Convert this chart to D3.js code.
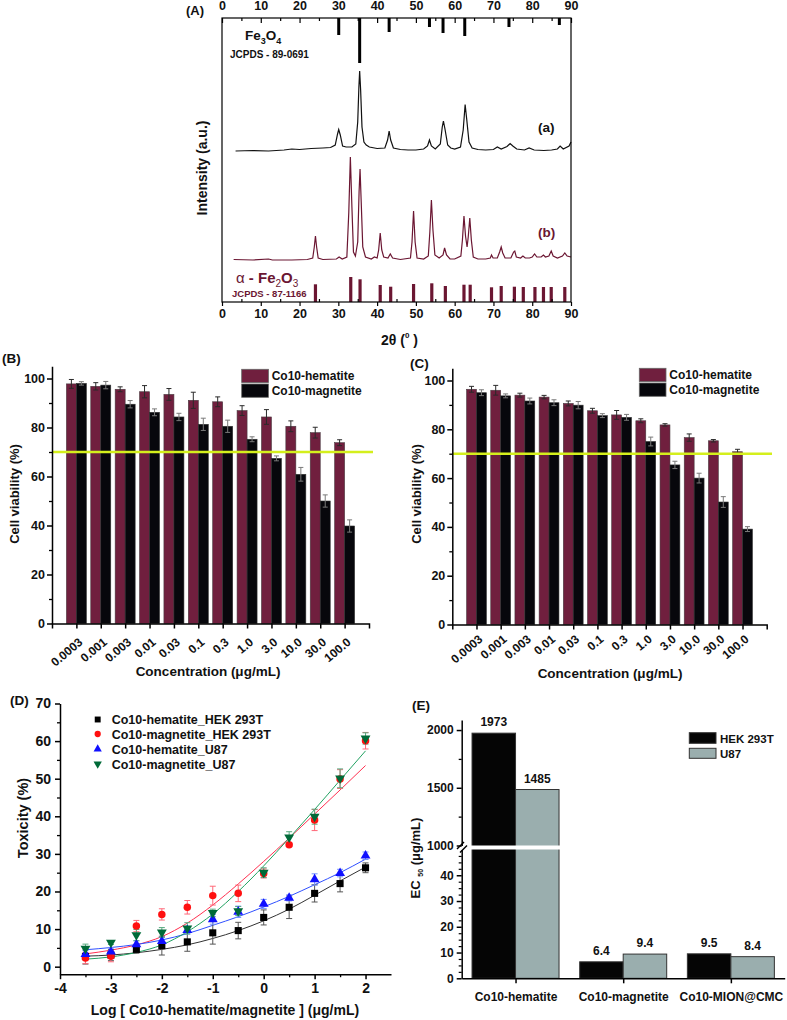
<!DOCTYPE html>
<html><head><meta charset="utf-8">
<script src="https://cdn.jsdelivr.net/npm/d3@7"></script>
<style>
body{margin:0;background:#fff}
</style></head><body><script>
// ================= DATA =================
// Panel A : XRD
const xrdTicks=[0,10,20,30,40,50,60,70,80,90];
const xrdMinor=[5,15,25,35,45,55,65,75,85];
const patternA=[[3.5,151],[8,151.5],[12,151],[16,152],[18,153],[20,152.5],[23,153.5],[26,154],[28,154.5],[29.2,157],[29.8,168],[30.1,172.5],[30.5,167],[31.1,156],[32,155],[33.5,155],[34.5,158],[35.0,180],[35.3,215],[35.5,231],[35.75,212],[36.1,175],[36.6,160],[37.2,157],[38,155],[40,153.5],[42,154],[42.7,162],[43.1,171],[43.5,162],[44.2,154],[46,152.5],[48,152],[50,152],[52,153],[53.0,156],[53.5,162],[54,156],[55,153],[56.3,158],[56.8,175],[57.1,181],[57.5,173],[58.2,157],[59,154],[60,153],[61.5,155],[62.2,172],[62.7,197.5],[63.1,183],[63.7,160],[64.5,154],[66,152.5],[68,152],[70,152.5],[71,155],[72,153],[73.5,155.5],[74.3,158.5],[75,156],[76,153],[78,152],[79.2,154],[80.5,152],[83,151.5],[85,152],[86.5,153],[87.2,156],[88,153],[89.5,156],[90,160]];
const patternB=[[3,42.5],[8,42],[12,43],[13,42],[18,42],[22,42.5],[23.4,44],[23.8,55],[24.1,66],[24.4,55],[24.8,44],[26,42.5],[29.5,43],[30.2,45],[31,43],[32.2,45],[32.7,90],[33.1,145],[33.5,95],[33.9,50],[34.4,46],[35.0,60],[35.35,110],[35.6,133],[35.9,100],[36.3,55],[37,45],[38.5,43],[39.3,45],[40,44],[40.4,52],[40.8,69],[41.2,52],[41.7,45],[42.8,44],[43.4,48],[44,44],[46,42.5],[48.6,44],[49.0,60],[49.4,91],[49.8,60],[50.3,44],[52,43],[53.2,46],[53.6,70],[54.0,102],[54.4,72],[54.9,47],[56,44],[57,47],[57.4,54],[57.9,47],[58.8,43],[60,43],[61.6,46],[62.0,62],[62.4,86],[62.8,66],[63.2,55],[63.5,65],[63.9,84],[64.3,62],[64.8,45],[66,43],[68,43],[69.2,44],[69.5,47],[69.9,44],[71,44],[71.6,50],[72.0,55],[72.4,49],[73,44],[74.5,44],[75.2,50],[75.5,51],[75.9,45],[77,44],[77.6,46],[78.2,44],[79.3,44],[80,45],[80.6,48],[81.2,45],[82.3,45],[82.9,47],[83.4,45],[84.3,46],[84.9,51],[85.4,46],[86.5,44],[87.8,46],[88.4,49],[89,46],[90,45]];
const magnetiteRef=[[30.1,17],[35.5,45],[43.1,14],[53.5,9],[57.0,15],[62.6,18],[74.0,9],[87.0,7]];
const hematiteRef=[[24.1,17.7],[33.2,25],[35.6,22.7],[40.8,17],[43.5,15.3],[49.4,18],[54.1,18.7],[57.6,16],[62.4,17.3],[64.0,17.3],[69.5,14.7],[72.0,16],[75.4,15.3],[77.7,15],[80.7,15],[82.9,15],[84.9,15],[88.4,15]];

// Panels B, C : cell viability
const concentrations=["0.0003","0.001","0.003","0.01","0.03","0.1","0.3","1.0","3.0","10.0","30.0","100.0"];
const viabTicks=[0,20,40,60,80,100];
const viabMinor=[10,30,50,70,90];
const hematiteB=[97.8,96.8,95.6,94.6,93.5,91.1,90.5,86.9,84.3,80.5,77.9,73.8];
const hematiteBErr=[1.8,1.5,1.0,2.5,2.4,3.3,2.0,2.0,3.0,2.2,2.2,1.2];
const magnetiteB=[98.0,97.3,89.5,86.2,84.3,81.3,80.5,75.2,67.4,60.9,50.0,39.8];
const magnetiteBErr=[0.7,1.5,1.5,1.4,1.5,2.5,2.5,1.0,1.0,2.8,2.5,2.5];
const hematiteC=[96.4,96.0,94.0,93.2,90.6,87.6,85.9,83.5,81.8,76.6,75.3,70.8];
const hematiteCErr=[1.2,2.0,0.8,0.7,1.0,1.0,1.8,0.8,0.5,1.5,0.5,1.0];
const magnetiteC=[95.0,93.7,91.6,90.9,89.9,85.6,84.9,75.0,65.4,60.0,50.2,39.1];
const magnetiteCErr=[1.2,0.8,1.2,1.2,1.5,0.8,1.2,1.8,1.5,2.0,2.2,1.0];
const threshold=70;

// Panel D : toxicity
const logConc=[-3.5,-3,-2.5,-2,-1.5,-1,-0.5,0,0.5,1,1.5,2];
const dTicksX=[-4,-3,-2,-1,0,1,2];
const dMinorX=[-3.5,-2.5,-1.5,-0.5,0.5,1.5];
const dTicksY=[0,10,20,30,40,50,60,70];
const dMinorY=[5,15,25,35,45,55,65];
const hemHEK=[2.7,3.1,4.6,5.6,6.6,9.0,9.6,13.1,15.8,19.5,22.1,26.3];
const hemHEKErr=[2.0,1.5,1.0,2.5,2.5,3.0,2.2,2.0,3.0,2.3,2.2,1.3];
const magHEK=[2.3,2.8,10.8,13.9,15.8,18.9,19.5,24.8,32.4,39.0,49.9,60.1];
const magHEKErr=[1.5,1.5,1.5,1.5,1.8,2.5,2.2,1.2,0.5,2.8,2.5,2.2];
const hemU87=[3.3,4.0,5.9,6.8,9.7,12.6,14.6,16.7,18.3,23.2,24.9,29.5];
const hemU87Err=[1.0,1.0,1.0,1.0,1.0,1.3,1.5,1.2,0.8,1.5,1.0,1.0];
const magU87=[4.8,6.4,8.4,9.1,10.2,14.3,14.8,25.0,34.4,39.9,50.1,60.7];
const magU87Err=[1.2,0.5,1.5,1.3,1.5,1.0,1.2,1.3,1.5,2.0,2.5,1.5];
const fitHemHEK=[2.8,3.1,3.7,4.6,5.8,7.5,9.6,12.2,15.3,19.0,22.8,26.5];
const fitMagHEK=[3.4,4.4,5.8,8.0,11.6,16.4,22.0,28.0,34.2,40.6,47.0,53.5];
const fitHemU87=[4.5,5.1,5.9,7.1,8.8,11.0,13.3,15.9,18.7,21.8,25.0,28.6];
const fitMagU87=[2.0,2.6,3.8,5.8,9.3,14.0,20.0,26.8,34.2,41.8,49.6,57.4];
const dSeriesNames=["Co10-hematite_HEK 293T","Co10-magnetite_HEK 293T","Co10-hematite_U87","Co10-magnetite_U87"];

// Panel E : EC50
const ecCats=["Co10-hematite","Co10-magnetite","Co10-MION@CMC"];
const ecHEK=[1973,6.4,9.5];
const ecU87=[1485,9.4,8.4];
const ecUpperTicks=[1000,1500,2000];
const ecUpperMinor=[1250,1750];
const ecLowerTicks=[0,10,20,30,40];
const ecLowerMinor=[2.5,5,7.5,12.5,15,17.5,22.5,25,27.5,32.5,35,37.5,42.5,45,47.5];
const ecSeries=["HEK 293T","U87"];

// ================= DRAWING =================
const FONT='"Liberation Sans", Arial, Helvetica, sans-serif';
const MAROON='#701f3e', MAROON_LINE='#6b1632';
const svg=d3.select('body').append('svg').attr('width',787).attr('height',1020)
  .attr('font-family',FONT).attr('font-weight','bold');
svg.append('rect').attr('width',787).attr('height',1020).attr('fill','#fff');

function styleAxis(g,fs,sw){
  g.attr('font-family',FONT).attr('font-size',fs).attr('font-weight','bold');
  g.selectAll('path,line').attr('stroke','#000').attr('stroke-width',sw||1.3);
  g.selectAll('text').attr('fill','#111');
  return g;
}
function label(x,y,s,fs,opt={}){
  const t=svg.append('text').attr('x',x).attr('y',y).attr('font-size',fs).attr('fill',opt.fill||'#111')
    .attr('text-anchor',opt.anchor||'start').text(s);
  if(opt.weight) t.attr('font-weight',opt.weight);
  return t;
}

// ---------- Panel A ----------
(function(){
  const xA=d3.scaleLinear().domain([0,90]).range([222,571]);
  const yA=d3.scaleLinear().domain([0,284]).range([302,18]);
  const g=svg.append('g');
  g.selectAll('line.mref').data(magnetiteRef).join('line').attr('class','mref')
    .attr('x1',d=>xA(d[0])).attr('x2',d=>xA(d[0])).attr('y1',yA(284)).attr('y2',d=>yA(284-d[1]))
    .attr('stroke','#000').attr('stroke-width',3);
  g.selectAll('line.href').data(hematiteRef).join('line').attr('class','href')
    .attr('x1',d=>xA(d[0])).attr('x2',d=>xA(d[0])).attr('y1',yA(0)).attr('y2',d=>yA(d[1]))
    .attr('stroke',MAROON_LINE).attr('stroke-width',3.2);
  const ln=d3.line().x(d=>xA(d[0])).y(d=>yA(d[1]));
  g.append('path').datum(patternA).attr('d',ln).attr('fill','none').attr('stroke','#111').attr('stroke-width',1.2);
  g.append('path').datum(patternB).attr('d',ln).attr('fill','none').attr('stroke',MAROON_LINE).attr('stroke-width',1.2);
  g.append('rect').attr('x',222).attr('y',18).attr('width',349).attr('height',284)
    .attr('fill','none').attr('stroke','#000').attr('stroke-width',1.2);
  const top=g.append('g').attr('transform','translate(0,18)')
    .call(d3.axisTop(xA).tickValues(xrdTicks).tickSizeInner(-5).tickSizeOuter(0).tickPadding(8).tickFormat(d=>String(d)));
  top.select('.domain').remove(); styleAxis(top,12.5,1.2);
  const topm=g.append('g').attr('transform','translate(0,18)')
    .call(d3.axisTop(xA).tickValues(xrdMinor).tickSizeInner(-3).tickSizeOuter(0).tickFormat(''));
  topm.select('.domain').remove(); styleAxis(topm,12,1.2);
  const bot=g.append('g').attr('transform','translate(0,302)')
    .call(d3.axisBottom(xA).tickValues(xrdTicks).tickSizeInner(4).tickSizeOuter(0).tickPadding(3).tickFormat(d=>String(d)));
  bot.select('.domain').remove(); styleAxis(bot,12.5,1.2);
  const botm=g.append('g').attr('transform','translate(0,302)')
    .call(d3.axisBottom(xA).tickValues(xrdMinor).tickSizeInner(-3).tickSizeOuter(0).tickFormat(''));
  botm.select('.domain').remove(); styleAxis(botm,12,1.2);

  label(204,15,'(A)',13);
  svg.select('text:last-of-type');
  const fe=label(245,40,'Fe',13.5,{weight:'600'});
  fe.append('tspan').attr('font-size',9).attr('dy',4).text('3');
  fe.append('tspan').attr('dy',-4).text('O');
  fe.append('tspan').attr('font-size',9).attr('dy',4).text('4');
  label(230,58,'JCPDS - 89-0691',10);
  label(538,132,'(a)',13.5);
  label(538,237,'(b)',13.5,{fill:MAROON_LINE});
  const al=label(236,283,'α',15,{fill:MAROON_LINE,weight:'normal'});
  al.append('tspan').attr('font-weight','bold').text(' - Fe');
  al.append('tspan').attr('font-size',10).attr('dy',4).text('2');
  al.append('tspan').attr('font-weight','bold').attr('dy',-4).text('O');
  al.append('tspan').attr('font-size',10).attr('dy',4).text('3');
  label(232,297,'JCPDS - 87-1166',9.5,{fill:MAROON_LINE});
  const xt=label(381,345,'2θ (',14);
  xt.append('tspan').attr('font-size',8).attr('dy',-7).text('0');
  xt.append('tspan').attr('dy',7).text(' )');
  svg.append('text').attr('transform','translate(207,168) rotate(-90)').attr('text-anchor','middle')
    .attr('font-size',14).attr('fill','#111').text('Intensity (a.u.)');
})();
// fix (A) anchor
svg.selectAll('text').filter(function(){return this.textContent==='(A)';}).attr('text-anchor','end');

// ---------- Panels B & C ----------
function viabilityPanel(o){
  const x=d3.scalePoint().domain(concentrations).range([o.x0,o.x1]).padding(1);
  const y=d3.scaleLinear().domain([0,105]).range([o.y0,o.ytop]);
  const bw=x.step()*0.41;
  const g=svg.append('g');
  g.selectAll('rect.hm').data(o.hem).join('rect').attr('class','hm')
    .attr('x',(d,i)=>x(concentrations[i])-bw).attr('y',d=>y(d)).attr('width',bw).attr('height',d=>y(0)-y(d))
    .attr('fill',MAROON).attr('stroke','#4a3a40').attr('stroke-width',0.6);
  g.selectAll('rect.mg').data(o.mag).join('rect').attr('class','mg')
    .attr('x',(d,i)=>x(concentrations[i])).attr('y',d=>y(d)).attr('width',bw).attr('height',d=>y(0)-y(d))
    .attr('fill','#07070c').attr('stroke','#333').attr('stroke-width',0.6);
  function err(vals,errs,dx,col){
    vals.forEach((v,i)=>{
      const cx=x(concentrations[i])+dx, e=errs[i];
      g.append('line').attr('x1',cx).attr('x2',cx).attr('y1',y(v-e)).attr('y2',y(v+e)).attr('stroke',col).attr('stroke-width',1);
      [v-e,v+e].forEach(b=>g.append('line').attr('x1',cx-2.5).attr('x2',cx+2.5).attr('y1',y(b)).attr('y2',y(b)).attr('stroke',col).attr('stroke-width',1));
    });
  }
  err(o.hem,o.hemErr,-bw/2,'#2a2a2a');
  err(o.mag,o.magErr,bw/2,'#7a7a7a');
  g.append('line').attr('x1',o.x0).attr('x2',o.lineEnd).attr('y1',y(threshold)).attr('y2',y(threshold))
    .attr('stroke','#d4ef1c').attr('stroke-width',2.5);
  const ay=g.append('g').attr('transform',`translate(${o.x0},0)`)
    .call(d3.axisLeft(y).tickValues(viabTicks).tickSizeInner(5).tickSizeOuter(0).tickPadding(2).tickFormat(d=>String(d)));
  styleAxis(ay,12.5,1.5);
  const aym=g.append('g').attr('transform',`translate(${o.x0},0)`)
    .call(d3.axisLeft(y).tickValues(viabMinor).tickSizeInner(3).tickSizeOuter(0).tickFormat(''));
  aym.select('.domain').remove(); styleAxis(aym,12,1.3);
  const ax=g.append('g').attr('transform',`translate(0,${o.y0})`)
    .call(d3.axisBottom(x).tickSizeInner(5).tickSizeOuter(5).tickFormat(''));
  styleAxis(ax,12,1.5);
  g.selectAll('text.xl').data(concentrations).join('text').attr('class','xl')
    .attr('transform',d=>`translate(${x(d)+7},${o.y0+o.lblDy}) rotate(-40)`)
    .attr('text-anchor','end').attr('font-size',12).attr('fill','#111').text(d=>d);
  g.append('rect').attr('x',o.lx).attr('y',o.ly).attr('width',26.7).attr('height',13.3).attr('fill',MAROON).attr('stroke','#666').attr('stroke-width',0.8);
  g.append('rect').attr('x',o.lx).attr('y',o.ly+14.7).attr('width',26.7).attr('height',13.3).attr('fill','#07070c').attr('stroke','#666').attr('stroke-width',0.8);
  label(o.lx+30,o.ly+11,'Co10-hematite',12);
  label(o.lx+30,o.ly+26,'Co10-magnetite',12);
  label(o.tag[0],o.tag[1],o.tagText,13.5);
  label(o.titleX,o.titleY,'Concentration (μg/mL)',13.5,{anchor:'middle'});
  svg.append('text').attr('transform',`translate(${o.ylabX},494) rotate(-90)`).attr('text-anchor','middle')
    .attr('font-size',13).attr('fill','#111').text('Cell viability (%)');
}
viabilityPanel({x0:52,x1:369,y0:623.5,ytop:366.25,hem:hematiteB,hemErr:hematiteBErr,mag:magnetiteB,magErr:magnetiteBErr,
  lineEnd:373,lblDy:20,lx:241.7,ly:369.3,tag:[2,363],tagText:'(B)',titleX:208,titleY:676,ylabX:19});
viabilityPanel({x0:452.3,x1:766.7,y0:624.5,ytop:368.3,hem:hematiteC,hemErr:hematiteCErr,mag:magnetiteC,magErr:magnetiteCErr,
  lineEnd:772,lblDy:16,lx:639.3,ly:368.3,tag:[410,368],tagText:'(C)',titleX:610,titleY:678,ylabX:421});

// ---------- Panel D ----------
(function(){
  const x=d3.scaleLinear().domain([-4,2.5]).range([60,391]);
  const y=d3.scaleLinear().domain([-2,70]).range([974.2,703.5]);
  const g=svg.append('g');
  const series=[
    {vals:hemHEK,err:hemHEKErr,fit:fitHemHEK,col:'#000',line:'#333',ecol:'#555',sym:d3.symbolSquare,size:50,rot:0},
    {vals:magHEK,err:magHEKErr,fit:fitMagHEK,col:'#ff1010',line:'#ff3050',ecol:'#ff6878',sym:d3.symbolCircle,size:44,rot:0},
    {vals:hemU87,err:hemU87Err,fit:fitHemU87,col:'#1010ff',line:'#3050ff',ecol:'#7090ff',sym:d3.symbolTriangle,size:42,rot:0},
    {vals:magU87,err:magU87Err,fit:fitMagU87,col:'#006a38',line:'#22a262',ecol:'#5aaa80',sym:d3.symbolTriangle,size:42,rot:180}
  ];
  const ln=d3.line().x((d,i)=>x(logConc[i])).y(d=>y(d)).curve(d3.curveMonotoneX);
  series.forEach(s=>g.append('path').datum(s.fit).attr('d',ln).attr('fill','none').attr('stroke',s.line).attr('stroke-width',1));
  series.forEach(s=>{
    s.vals.forEach((v,i)=>{
      const cx=x(logConc[i]), e=s.err[i];
      g.append('line').attr('x1',cx).attr('x2',cx).attr('y1',y(v-e)).attr('y2',y(v+e)).attr('stroke',s.ecol).attr('stroke-width',1);
      [v-e,v+e].forEach(b=>g.append('line').attr('x1',cx-3).attr('x2',cx+3).attr('y1',y(b)).attr('y2',y(b)).attr('stroke',s.ecol).attr('stroke-width',1));
    });
  });
  series.forEach(s=>{
    g.selectAll(null).data(s.vals).join('path')
      .attr('d',d3.symbol().type(s.sym).size(s.size))
      .attr('transform',(d,i)=>`translate(${x(logConc[i])},${y(d)}) rotate(${s.rot})`)
      .attr('fill',s.col);
  });
  const ay=g.append('g').attr('transform','translate(60,0)')
    .call(d3.axisLeft(y).tickValues(dTicksY).tickSizeInner(5).tickSizeOuter(0).tickPadding(4).tickFormat(d=>String(d)));
  styleAxis(ay,14,1.5);
  const aym=g.append('g').attr('transform','translate(60,0)')
    .call(d3.axisLeft(y).tickValues(dMinorY).tickSizeInner(3).tickSizeOuter(0).tickFormat(''));
  aym.select('.domain').remove(); styleAxis(aym,14,1.3);
  const ax=g.append('g').attr('transform','translate(0,974.2)')
    .call(d3.axisBottom(x).tickValues(dTicksX).tickSizeInner(5).tickSizeOuter(0).tickPadding(4).tickFormat(d=>String(d)));
  styleAxis(ax,14,1.5);
  const axm=g.append('g').attr('transform','translate(0,974.2)')
    .call(d3.axisBottom(x).tickValues(dMinorX).tickSizeInner(3).tickSizeOuter(0).tickFormat(''));
  axm.select('.domain').remove(); styleAxis(axm,14,1.3);
  const rows=[719.5,734,749,764];
  series.forEach((s,i)=>{
    g.append('path').attr('d',d3.symbol().type(s.sym).size(s.size*0.7)).attr('transform',`translate(97.7,${rows[i]}) rotate(${s.rot})`).attr('fill',s.col);
    label(111.7,rows[i]+4.5,dSeriesNames[i],12.5);
  });
  label(10,705,'(D)',13.5);
  label(225,1015,'Log [ Co10-hematite/magnetite ] (μg/mL)',14,{anchor:'middle'});
  svg.append('text').attr('transform','translate(28,818) rotate(-90)').attr('text-anchor','middle')
    .attr('font-size',14.5).attr('fill','#111').text('Toxicity (%)');
})();

// ---------- Panel E ----------
(function(){
  const x=d3.scalePoint().domain(ecCats).range([461.7,784.7]).padding(0.5);
  const yl=d3.scaleLinear().domain([0,50]).range([978.3,849.5]);
  const yu=d3.scaleLinear().domain([1000,2087]).range([845.5,720]);
  const y=v=>v>50?yu(v):yl(v);
  const bw=43.5;
  const g=svg.append('g');
  const GRAY='#9aaeae';
  [[ecHEK,-bw,'#050505'],[ecU87,0,GRAY]].forEach(([vals,dx,col])=>{
    g.selectAll(null).data(vals).join('rect')
      .attr('x',(d,i)=>x(ecCats[i])+dx).attr('y',d=>y(d)).attr('width',bw).attr('height',d=>yl(0)-y(d))
      .attr('fill',col).attr('stroke','#333').attr('stroke-width',1);
    g.selectAll(null).data(vals).join('text')
      .attr('x',(d,i)=>x(ecCats[i])+dx+bw/2).attr('y',d=>y(d)-7).attr('text-anchor','middle')
      .attr('font-size',12).attr('fill','#111').text(d=>String(d));
  });
  g.append('rect').attr('x',455).attr('y',845.5).attr('width',x(ecCats[0])+bw+2-455).attr('height',4).attr('fill','#fff');
  const au=g.append('g').attr('transform','translate(461.7,0)')
    .call(d3.axisLeft(yu).tickValues(ecUpperTicks).tickSizeInner(5).tickSizeOuter(0).tickPadding(3).tickFormat(d=>String(d)));
  styleAxis(au,12,1.5);
  const aum=g.append('g').attr('transform','translate(461.7,0)')
    .call(d3.axisLeft(yu).tickValues(ecUpperMinor).tickSizeInner(3).tickSizeOuter(0).tickFormat(''));
  aum.select('.domain').remove(); styleAxis(aum,12,1.3);
  const al=g.append('g').attr('transform','translate(461.7,0)')
    .call(d3.axisLeft(yl).tickValues(ecLowerTicks).tickSizeInner(5).tickSizeOuter(0).tickPadding(3).tickFormat(d=>String(d)));
  styleAxis(al,12,1.5);
  const alm=g.append('g').attr('transform','translate(461.7,0)')
    .call(d3.axisLeft(yl).tickValues(ecLowerMinor).tickSizeInner(3).tickSizeOuter(0).tickFormat(''));
  alm.select('.domain').remove(); styleAxis(alm,12,1.2);
  const ax=g.append('g').attr('transform','translate(0,978.3)')
    .call(d3.axisBottom(x).tickSizeInner(5).tickSizeOuter(0).tickPadding(9));
  styleAxis(ax,12,1.5);
  g.append('line').attr('x1',457).attr('y1',849).attr('x2',464).attr('y2',842).attr('stroke','#000').attr('stroke-width',1.4);
  g.append('line').attr('x1',460).attr('y1',852.5).attr('x2',467).attr('y2',845.5).attr('stroke','#000').attr('stroke-width',1.4);
  g.append('rect').attr('x',689.3).attr('y',732.7).attr('width',26.7).attr('height',10.6).attr('fill','#050505').attr('stroke','#333');
  g.append('rect').attr('x',689.3).attr('y',748.3).attr('width',26.7).attr('height',10).attr('fill',GRAY).attr('stroke','#333');
  label(720,742.5,ecSeries[0],11.5);
  label(720,757.5,ecSeries[1],11.5);
  label(412,710,'(E)',13.5);
  const t=svg.append('text').attr('transform','translate(420,858) rotate(-90)').attr('text-anchor','middle')
    .attr('font-size',13).attr('fill','#111').text('EC ');
  t.append('tspan').attr('font-size',7).attr('dy',3).text('50');
  t.append('tspan').attr('dy',-3).text(' (μg/mL)');
})();
</script></body></html>
